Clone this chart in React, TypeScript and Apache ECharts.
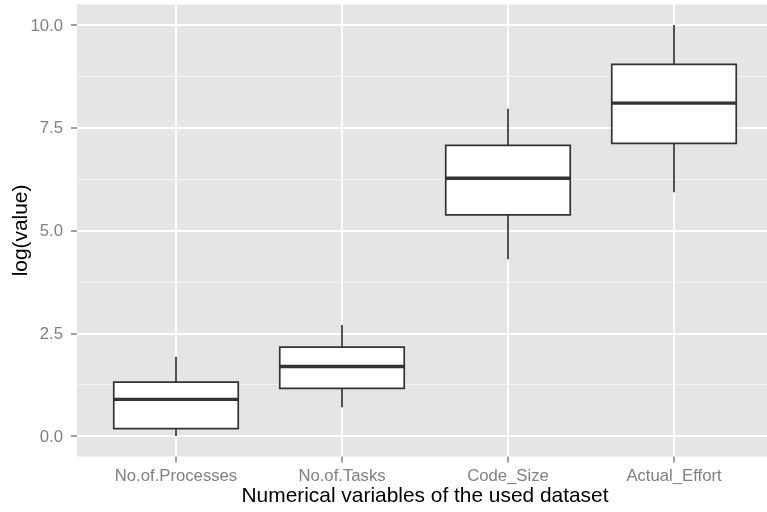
import React, { useEffect, useRef } from "react";
import * as echarts from "echarts";

const categories = ["No.of.Processes", "No.of.Tasks", "Code_Size", "Actual_Effort"];
const whiskerLow = [0.0, 0.7, 4.3, 5.93];
const q1 = [0.18, 1.16, 5.38, 7.12];
const median = [0.89, 1.69, 6.27, 8.1];
const q3 = [1.31, 2.16, 7.07, 9.04];
const whiskerHigh = [1.93, 2.7, 7.96, 10.0];

const FONT = "'Liberation Sans', Arial, Helvetica, sans-serif";
const GREY = "#7F7F7F";
const BOX = "#333333";

export default function App() {
  const ref = useRef<HTMLDivElement>(null);
  useEffect(() => {
    if (!ref.current) return;
    const chart = echarts.init(ref.current, undefined, { renderer: "svg" });
    const data = categories.map((c, i) => [c, whiskerLow[i], q1[i], median[i], q3[i], whiskerHigh[i]]);
    chart.setOption({
      animation: false,
      textStyle: { fontFamily: FONT },
      graphic: [
        {
          type: "rect",
          z: -100,
          silent: true,
          shape: { x: 77, y: 4.45, width: 697, height: 452.1 },
          style: { fill: "#E5E5E5" },
        },
      ],
      grid: [
        { left: 77, right: 0, top: 25, bottom: 76, outerBoundsMode: "none" },
        { left: 176, right: 93, top: 4.45, bottom: 55.45, outerBoundsMode: "none" },
      ],
      xAxis: [
        { gridIndex: 0, type: "value", min: 0, max: 1, show: false },
        {
          gridIndex: 1,
          type: "category",
          data: categories,
          boundaryGap: false,
          axisLine: { show: false, onZero: false },
          axisTick: { show: true, length: 6, lineStyle: { color: GREY, width: 1.5 } },
          axisLabel: { interval: 0, color: GREY, fontSize: 16.7, margin: 10, fontFamily: FONT },
          splitLine: { show: true, lineStyle: { color: "#FFFFFF", width: 1.8 } },
          name: "Numerical variables of the used dataset",
          nameLocation: "middle",
          nameGap: 27.5,
          nameMoveOverlap: false,
          nameTextStyle: { color: "#000000", fontSize: 20.9, fontFamily: FONT },
        },
      ],
      yAxis: [
        {
          gridIndex: 0,
          type: "value",
          min: 0,
          max: 10,
          interval: 2.5,
          axisLine: { show: false, onZero: false },
          axisTick: { show: true, length: 6, lineStyle: { color: GREY, width: 1.5 } },
          axisLabel: {
            color: GREY,
            fontSize: 16.7,
            margin: 14,
            fontFamily: FONT,
            formatter: (v: number) => v.toFixed(1),
          },
          splitLine: { show: true, lineStyle: { color: "#FFFFFF", width: 1.8 } },
          minorTick: { show: false, splitNumber: 2 },
          minorSplitLine: { show: true, lineStyle: { color: "#F2F2F2", width: 1 } },
          name: "log(value)",
          nameLocation: "middle",
          nameGap: 47,
          nameRotate: 90,
          nameMoveOverlap: false,
          nameTextStyle: { color: "#000000", fontSize: 20.9, fontFamily: FONT },
        },
        { gridIndex: 1, type: "value", min: -0.5, max: 10.5, show: false },
      ],
      series: [
        {
          type: "custom",
          xAxisIndex: 1,
          yAxisIndex: 1,
          data,
          encode: { x: 0, y: [1, 2, 3, 4, 5] },
          renderItem: (params: any, api: any) => {
            const idx = api.value(0);
            const lo = api.coord([idx, api.value(1)]);
            const b1 = api.coord([idx, api.value(2)]);
            const md = api.coord([idx, api.value(3)]);
            const b3 = api.coord([idx, api.value(4)]);
            const hi = api.coord([idx, api.value(5)]);
            const band = api.size([1, 0])[0];
            const half = band * 0.375;
            const cx = md[0];
            const ls = { stroke: BOX, lineWidth: 1.7 };
            return {
              type: "group",
              children: [
                { type: "line", shape: { x1: cx, y1: hi[1], x2: cx, y2: b3[1] }, style: ls },
                { type: "line", shape: { x1: cx, y1: b1[1], x2: cx, y2: lo[1] }, style: ls },
                {
                  type: "rect",
                  shape: { x: cx - half, y: b3[1], width: 2 * half, height: b1[1] - b3[1] },
                  style: { fill: "#FFFFFF", stroke: BOX, lineWidth: 1.7 },
                },
                {
                  type: "line",
                  shape: { x1: cx - half, y1: md[1], x2: cx + half, y2: md[1] },
                  style: { stroke: BOX, lineWidth: 3.4 },
                },
              ],
            };
          },
        },
      ],
    });
    return () => chart.dispose();
  }, []);
  return (
    <div
      ref={ref}
      style={{ position: "fixed", left: 0, top: 0, width: 767, height: 512 }}
    />
  );
}
